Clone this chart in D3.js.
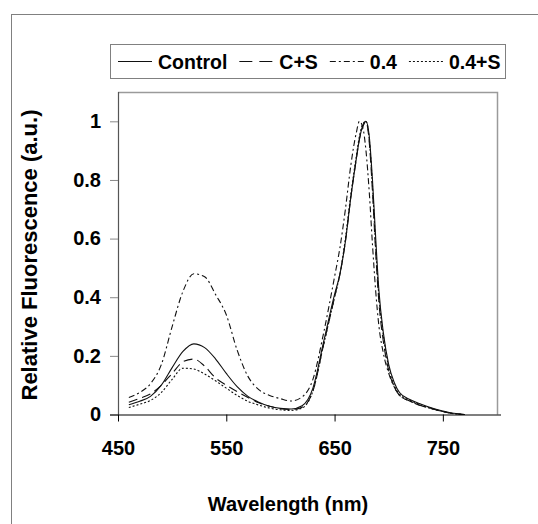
<html>

<head>
<style>
    body { margin: 0; background: #fff; }
    text { font-family: "Liberation Sans", Arial, sans-serif; font-weight: bold; fill: #000; }
</style>
</head>

<body>
    <svg id="container" height="524" width="538">
        <rect id="frame" x="11.5" y="14.5" width="600" height="600" fill="none" stroke="#808080"></rect>
        <g id="legend"></g>
        <g id="plot"></g>
        <g id="yAxis"></g>
        <g id="xAxis"></g>
    </svg>
</body>
<script src="https://cdn.jsdelivr.net/npm/d3@7"></script>
<script>
    // data
    let wavelengths = [460, 470, 480, 490, 500, 510, 520, 530, 540, 550,
        560, 570, 580, 590, 600, 610, 620, 630, 640, 650,
        655, 660, 665, 670, 673, 676, 679, 682, 685, 688,
        691, 695, 700, 705, 710, 720, 730, 740, 750, 760, 770]
    let control = [0.033, 0.045, 0.062, 0.10, 0.16, 0.215, 0.241, 0.228, 0.19, 0.14,
        0.095, 0.062, 0.042, 0.028, 0.021, 0.019, 0.03, 0.09, 0.25, 0.41,
        0.48, 0.59, 0.74, 0.87, 0.94, 0.985, 1.0, 0.95, 0.80, 0.60,
        0.42, 0.28, 0.17, 0.11, 0.075, 0.05, 0.035, 0.022, 0.012, 0.004, 0.0]
    let cPlusS = [0.042, 0.055, 0.07, 0.10, 0.14, 0.18, 0.189, 0.165, 0.125, 0.10,
        0.078, 0.058, 0.04, 0.028, 0.02, 0.017, 0.025, 0.08, 0.24, 0.40,
        0.48, 0.59, 0.74, 0.87, 0.94, 0.98, 1.0, 0.93, 0.76, 0.55,
        0.38, 0.25, 0.15, 0.095, 0.065, 0.045, 0.03, 0.02, 0.01, 0.003, 0.0]
    let pt4 = [0.058, 0.075, 0.105, 0.17, 0.30, 0.42, 0.48, 0.47, 0.41, 0.34,
        0.22, 0.13, 0.085, 0.065, 0.054, 0.046, 0.06, 0.12, 0.28, 0.47,
        0.57, 0.70, 0.85, 0.96, 1.0, 0.98, 0.90, 0.76, 0.58, 0.42,
        0.30, 0.21, 0.14, 0.095, 0.065, 0.045, 0.03, 0.02, 0.01, 0.003, 0.0]
    let pt4PlusS = [0.024, 0.035, 0.048, 0.075, 0.12, 0.158, 0.155, 0.138, 0.115, 0.09,
        0.065, 0.045, 0.032, 0.022, 0.016, 0.014, 0.022, 0.08, 0.24, 0.40,
        0.48, 0.60, 0.75, 0.88, 0.95, 0.99, 1.0, 0.94, 0.78, 0.57,
        0.40, 0.27, 0.16, 0.10, 0.07, 0.048, 0.032, 0.02, 0.01, 0.003, 0.0]

    let seriesNames = ["Control", "C+S", "0.4", "0.4+S"]
    let xTicks = [450, 550, 650, 750]
    let yTicks = [0, 0.2, 0.4, 0.6, 0.8, 1]

    let dashes = {"Control": null, "C+S": "9,5", "0.4": "6,3,2,3", "0.4+S": "2,2"}

    let series = [control, cPlusS, pt4, pt4PlusS].map((vals, i) => ({
        name: seriesNames[i],
        points: vals.map((v, j) => ({x: wavelengths[j], y: v}))
    }))

    let plotLeft = 118, plotRight = 497, plotTop = 92, plotBottom = 414.5

    let xScale = d3.scaleLinear().domain([450, 800]).range([plotLeft, plotRight])
    let yScale = d3.scaleLinear().domain([0, 1.1]).range([plotBottom, plotTop])

    let svg = d3.select("#container")

    // plot area border (top and right, grey)
    svg.select("#plot").append("path")
        .attr("d", `M${plotLeft},${plotTop + 0.5}H${plotRight + 0.5}V${plotBottom}`)
        .attr("fill", "none")
        .attr("stroke", "#9a9a9a")
        .attr("stroke-width", 1.5)

    let line = d3.line()
        .x(d => xScale(d.x))
        .y(d => yScale(d.y))
        .curve(d3.curveMonotoneX)

    svg.select("#plot").selectAll("path.series")
        .data(series)
        .enter()
        .append("path")
        .attr("class", "series")
        .attr("d", d => line(d.points))
        .attr("fill", "none")
        .attr("stroke", "#111")
        .attr("stroke-width", 1.1)
        .attr("stroke-dasharray", d => dashes[d.name])

    // y axis
    let yAxisObj = d3.axisLeft(yScale)
        .tickValues(yTicks)
        .tickSize(8)
        .tickPadding(9)
        .tickFormat(d => +d.toFixed(1))
    let yAxis = d3.select("#yAxis")
        .attr("transform", `translate(${plotLeft},0)`)
        .call(yAxisObj)
    yAxis.select(".domain").attr("d", `M0.5,${plotTop}V${plotBottom}`).attr("stroke", "#555").attr("stroke-width", 1.2)
    yAxis.selectAll(".tick line").attr("stroke", "#888")
    yAxis.selectAll("text").attr("font-size", 20).attr("font-family", null)

    // x axis
    let xAxisObj = d3.axisBottom(xScale)
        .tickValues(xTicks)
        .tickSize(7)
        .tickPadding(19)
    let xAxis = d3.select("#xAxis")
        .attr("transform", `translate(0,${plotBottom})`)
        .call(xAxisObj)
    xAxis.select(".domain").attr("d", `M${plotLeft - 8},0.5H${plotRight + 4}`).attr("stroke", "#000").attr("stroke-width", 1.2)
    xAxis.selectAll("text").attr("font-size", 20).attr("font-family", null)

    // axis titles
    svg.append("text")
        .attr("x", 288)
        .attr("y", 511)
        .attr("text-anchor", "middle")
        .attr("font-size", 20)
        .text("Wavelength (nm)")

    svg.append("text")
        .attr("transform", "translate(37,255) rotate(-90)")
        .attr("text-anchor", "middle")
        .attr("font-size", 22)
        .text("Relative Fluorescence (a.u.)")

    // legend
    let legend = d3.select("#legend")
    legend.append("rect")
        .attr("x", 110.5).attr("y", 44.5)
        .attr("width", 395).attr("height", 34)
        .attr("fill", "#fff")
        .attr("stroke", "#808080")

    let lx = 118
    series.forEach(s => {
        legend.append("line")
            .attr("x1", lx).attr("x2", lx + 34)
            .attr("y1", 61.5).attr("y2", 61.5)
            .attr("stroke", "#111")
            .attr("stroke-width", 1.1)
            .attr("stroke-dasharray", s.name == "C+S" ? "13,7" : dashes[s.name])
        let t = legend.append("text")
            .attr("x", lx + 40)
            .attr("y", 68.5)
            .attr("font-size", 19.5)
            .text(s.name)
        lx = lx + 40 + t.node().getComputedTextLength() + 12
    })
</script>

</html>
